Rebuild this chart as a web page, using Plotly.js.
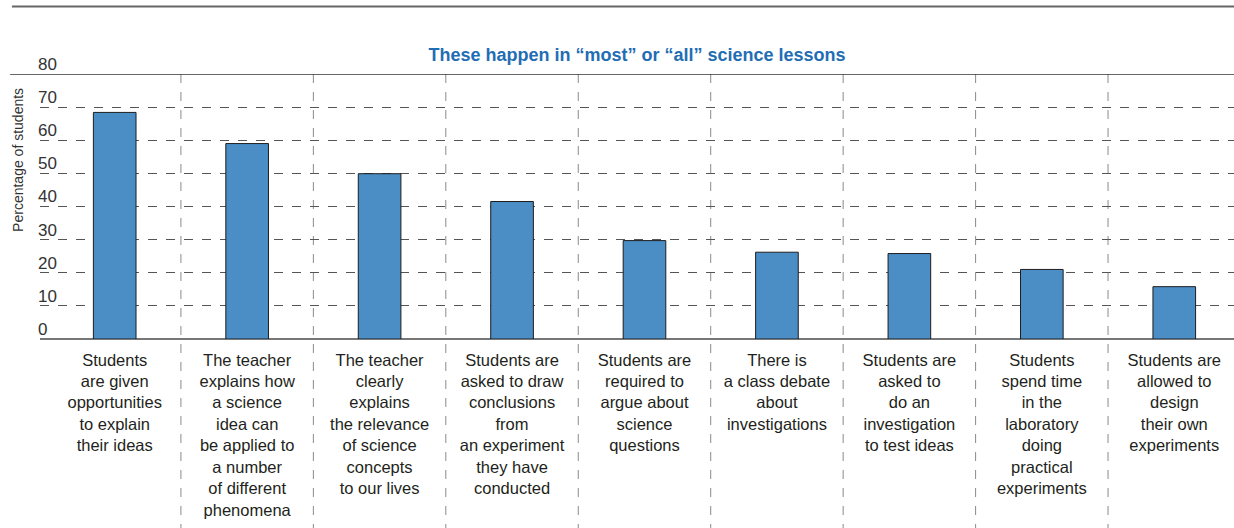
<!DOCTYPE html>
<html>
<head>
<meta charset="utf-8">
<script src="https://cdn.plot.ly/plotly-3.0.1.min.js"></script>
<style>html,body{margin:0;padding:0;background:#fff;}#chart{width:1234px;height:528px;}</style>
</head>
<body>
<div id="chart"></div>
<script>
var categories = [
  "Students<br>are given<br>opportunities<br>to explain<br>their ideas",
  "The teacher<br>explains how<br>a science<br>idea can<br>be applied to<br>a number<br>of different<br>phenomena",
  "The teacher<br>clearly<br>explains<br>the relevance<br>of science<br>concepts<br>to our lives",
  "Students are<br>asked to draw<br>conclusions<br>from<br>an experiment<br>they have<br>conducted",
  "Students are<br>required to<br>argue about<br>science<br>questions",
  "There is<br>a class debate<br>about<br>investigations",
  "Students are<br>asked to<br>do an<br>investigation<br>to test ideas",
  "Students<br>spend time<br>in the<br>laboratory<br>doing<br>practical<br>experiments",
  "Students are<br>allowed to<br>design<br>their own<br>experiments"
];
var values = [68.4, 59.0, 49.9, 41.5, 29.7, 26.2, 25.8, 21.0, 15.8];
var yTicks = [0, 10, 20, 30, 40, 50, 60, 70, 80];
var chartTitle = "These happen in “most” or “all” science lessons";
var yTitle = "Percentage of students";

var textFont = "'Liberation Sans', sans-serif";

var shapes = [];
for (var i = 0; i < categories.length - 1; i++) {
  shapes.push({type: 'line', xref: 'x', yref: 'paper', x0: i + 0.5, x1: i + 0.5, y0: 1, y1: -0.75,
    line: {color: '#8a8a8a', width: 1, dash: 'dash'}, layer: 'below'});
}
shapes.push({type: 'line', xref: 'paper', yref: 'y', x0: -0.025, x1: 1, y0: 80, y1: 80,
  line: {color: '#333333', width: 1.5}});
shapes.push({type: 'line', xref: 'paper', yref: 'paper', x0: -0.0235, x1: 1, y0: 1.255, y1: 1.255,
  line: {color: '#666666', width: 2}});

var trace = {
  type: 'bar',
  x: categories,
  y: values,
  width: 0.322,
  marker: {color: '#4b8dc5', line: {color: '#1e1e1e', width: 1}},
  hoverinfo: 'none'
};

var layout = {
  width: 1234, height: 528,
  margin: {l: 40, r: 0, t: 74, b: 189, pad: 0},
  paper_bgcolor: '#ffffff', plot_bgcolor: '#ffffff',
  showlegend: false,
  bargap: 0,
  title: {text: '<b>' + chartTitle + '</b>', font: {family: "'Liberation Sans', sans-serif", size: 18, color: '#1f6db4'},
    xref: 'paper', x: 0.5, xanchor: 'center', yref: 'container', y: 0.896, yanchor: 'middle'},
  xaxis: {
    type: 'category', range: [-0.564, 8.451], showgrid: false, zeroline: false, showline: false,
    ticks: '', tickfont: {family: textFont, size: 16.5, color: '#231f20'}, tickangle: 0,
    ticklabelstandoff: 9, fixedrange: true
  },
  yaxis: {
    range: [0, 80], tickvals: yTicks, ticktext: yTicks.map(String),
    showgrid: true, gridcolor: '#555555', gridwidth: 1, griddash: 'dash',
    zeroline: true, zerolinecolor: '#777777', zerolinewidth: 1.5,
    showline: false, ticks: '', ticklabelposition: 'inside', ticklabelshift: -10, ticklabelstandoff: -5,
    ticklabeloverflow: 'allow',
    tickfont: {family: "'Liberation Sans', sans-serif", size: 17, color: '#333333'},
    fixedrange: true
  },
  shapes: shapes,
  annotations: [{
    text: yTitle, xref: 'paper', yref: 'paper', x: -0.0184, y: 0.676, xanchor: 'center', yanchor: 'middle',
    textangle: -90, showarrow: false, font: {family: textFont, size: 14, color: '#333333'}
  }]
};

Plotly.newPlot('chart', [trace], layout, {displayModeBar: false, staticPlot: true});
</script>
</body>
</html>
